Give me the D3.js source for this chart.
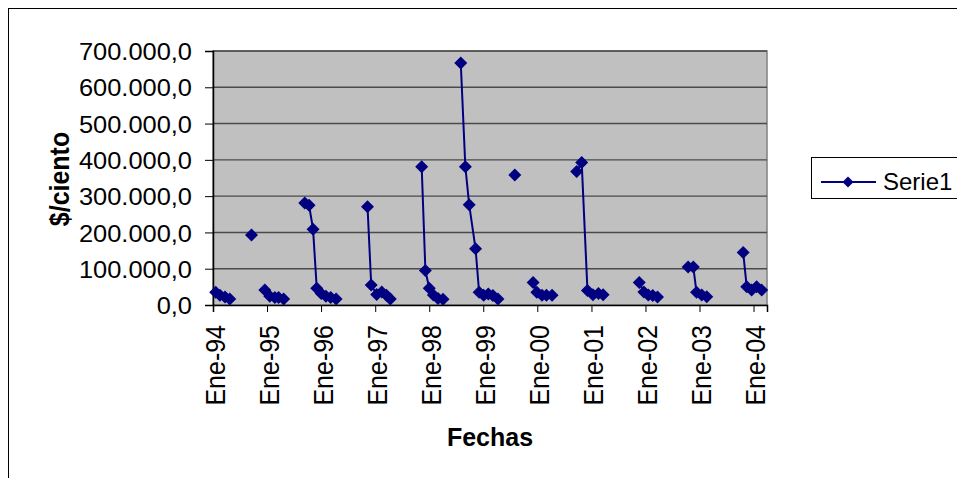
<!DOCTYPE html>
<html>
<head>
<meta charset="utf-8">
<script src="https://cdn.jsdelivr.net/npm/d3@7"></script>
<style>
  html, body { margin: 0; padding: 0; background: #fff; }
  svg { display: block; font-family: "Liberation Sans", Arial, sans-serif; }
</style>
</head>
<body>
<svg id="chart" width="957" height="478"></svg>
<script>
// ---- Data ----
// Observation dates; "null" values mark gaps where the line breaks.
const dates = [
  "1994-01-19","1994-02-17","1994-03-23","1994-04-24", null,
  "1994-09-18", null,
  "1994-12-17","1995-01-20","1995-02-23","1995-03-20","1995-04-23", null,
  "1995-09-13","1995-10-12","1995-11-08","1995-12-03","1996-01-02","1996-02-03","1996-03-06","1996-04-12", null,
  "1996-11-10","1996-12-05","1997-01-11","1997-02-14","1997-03-18","1997-04-13", null,
  "1997-11-11","1997-12-06","1998-01-01","1998-01-29","1998-03-01","1998-04-04", null,
  "1998-08-02","1998-09-02","1998-09-28","1998-11-10","1998-12-04","1999-01-04","1999-02-04","1999-03-07","1999-04-10", null,
  "1999-08-02", null,
  "1999-12-04","1999-12-29","2000-02-02","2000-03-03","2000-04-10", null,
  "2000-09-23","2000-10-27","2000-12-05","2001-01-11","2001-02-17","2001-03-21", null,
  "2001-11-20","2001-12-21","2002-01-20","2002-02-19","2002-03-23", null,
  "2002-10-16","2002-11-20","2002-12-12","2003-01-16","2003-02-19", null,
  "2003-10-23","2003-11-16","2003-12-19","2004-01-22","2004-02-25"
];
const serie1 = [
  35000, 27000, 22000, 16500, null,
  193000, null,
  41000, 24000, 21000, 21000, 16500, null,
  281000, 275000, 209000, 46000, 32000, 24000, 21000, 16500, null,
  271000, 55000, 29000, 36000, 27000, 16500, null,
  381000, 95000, 46000, 27500, 18000, 16000, null,
  667000, 381000, 276000, 155000, 35000, 27000, 30000, 26000, 16500, null,
  358000, null,
  62000, 35000, 27000, 27000, 27000, null,
  368000, 393000, 40000, 28000, 32000, 28000, null,
  62000, 36000, 27500, 26000, 22000, null,
  105000, 105000, 35000, 27500, 23000, null,
  145000, 50000, 41000, 50000, 41000
];
const xTickLabels = ["Ene-94","Ene-95","Ene-96","Ene-97","Ene-98","Ene-99","Ene-00","Ene-01","Ene-02","Ene-03","Ene-04"];
const yTicks = [0, 100000, 200000, 300000, 400000, 500000, 600000, 700000];
const seriesName = "Serie1";
const xTitle = "Fechas";
const yTitle = "$/ciento";

// ---- Build ----
const parse = d3.timeParse("%Y-%m-%d");
const data = dates.map((d, i) => ({ date: d ? parse(d) : null, value: serie1[i] }));
const tickDates = xTickLabels.map((_, i) => new Date(1994 + i, 0, 1));

const svg = d3.select("#chart");
const plot = { left: 213, right: 767, top: 51, bottom: 305 };
const navy = "#000080";

// outer chart border
svg.append("rect").attr("x", 0).attr("y", 0).attr("width", 957).attr("height", 478).attr("fill", "#fff");
svg.append("rect").attr("x", 8.5).attr("y", 8.5).attr("width", 1200).attr("height", 1200)
  .attr("fill", "none").attr("stroke", "#000").attr("stroke-width", 1);

const x = d3.scaleTime()
  .domain([new Date(1994, 0, 1), new Date(2004, 3, 1)])
  .range([plot.left, plot.right]);
const y = d3.scaleLinear().domain([0, 700000]).range([plot.bottom, plot.top]);

// plot area
svg.append("rect").attr("x", plot.left).attr("y", plot.top)
  .attr("width", plot.right - plot.left).attr("height", plot.bottom - plot.top)
  .attr("fill", "#c0c0c0").attr("stroke", "#808080").attr("stroke-width", 1.5);

// gridlines
svg.append("g").selectAll("line").data(yTicks.filter(v => v > 0)).join("line")
  .attr("x1", plot.left).attr("x2", plot.right)
  .attr("y1", d => y(d)).attr("y2", d => y(d))
  .attr("stroke", "#4a4a4a").attr("stroke-width", 1.4);

const loc = d3.formatLocale({ decimal: ",", thousands: ".", grouping: [3], currency: ["$", ""] });
const fmt = loc.format(",.1f");

// y axis
const yAxis = svg.append("g").attr("transform", `translate(${plot.left},0)`)
  .call(d3.axisLeft(y).tickValues(yTicks).tickFormat(fmt).tickSize(8).tickPadding(13));
yAxis.select(".domain").attr("stroke", "#000").attr("stroke-width", 1.5);
yAxis.selectAll(".tick line").attr("stroke", "#000");
yAxis.selectAll(".tick text").attr("font-size", 24).attr("fill", "#000")
  .attr("font-family", "Liberation Sans, Arial, sans-serif")
  .attr("dy", "0.36em")
  .attr("transform", "translate(-21,0) scale(1.06,1) translate(21,0)");

// x axis
const xAxis = svg.append("g").attr("transform", `translate(0,${plot.bottom})`)
  .call(d3.axisBottom(x).tickValues(tickDates).tickFormat((d, i) => xTickLabels[i]).tickSize(7));
xAxis.select(".domain").attr("stroke", "#000").attr("stroke-width", 1.5);
xAxis.selectAll(".tick line").attr("stroke", "#000");
xAxis.selectAll(".tick text")
  .attr("font-size", 25).attr("fill", "#000")
  .attr("font-family", "Liberation Sans, Arial, sans-serif")
  .attr("text-anchor", "end")
  .attr("transform", "translate(1,0) scale(1.12,1) rotate(-90)")
  .attr("x", -20).attr("y", 0).attr("dy", "0.36em");

// series line with gaps
const line = d3.line().defined(d => d.value != null && d.date != null)
  .x(d => x(d.date)).y(d => y(d.value));
svg.append("path").datum(data).attr("d", line)
  .attr("fill", "none").attr("stroke", navy).attr("stroke-width", 2);

const diamond = r => `M0,${-r}L${r},0L0,${r}L${-r},0Z`;
svg.append("g").selectAll("path").data(data.filter(d => d.value != null)).join("path")
  .attr("transform", d => `translate(${x(d.date)},${y(d.value)})`)
  .attr("d", diamond(6.5)).attr("fill", navy);

// axis titles
svg.append("text").attr("x", 490).attr("y", 446).attr("text-anchor", "middle")
  .attr("font-size", 25).attr("font-weight", "bold").text(xTitle);
svg.append("text").attr("transform", "translate(69,179) scale(1.08,1) rotate(-90)").attr("text-anchor", "middle")
  .attr("font-size", 25).attr("font-weight", "bold").text(yTitle);

// legend
const lg = svg.append("g");
lg.append("rect").attr("x", 811.5).attr("y", 157.5).attr("width", 200).attr("height", 41)
  .attr("fill", "#fff").attr("stroke", "#000").attr("stroke-width", 1);
lg.append("line").attr("x1", 821).attr("x2", 876).attr("y1", 182).attr("y2", 182)
  .attr("stroke", navy).attr("stroke-width", 2);
lg.append("path").attr("transform", "translate(848,182)").attr("d", diamond(5.5)).attr("fill", navy);
lg.append("text").attr("x", 883).attr("y", 190).attr("font-size", 24).text(seriesName);
</script>
</body>
</html>
